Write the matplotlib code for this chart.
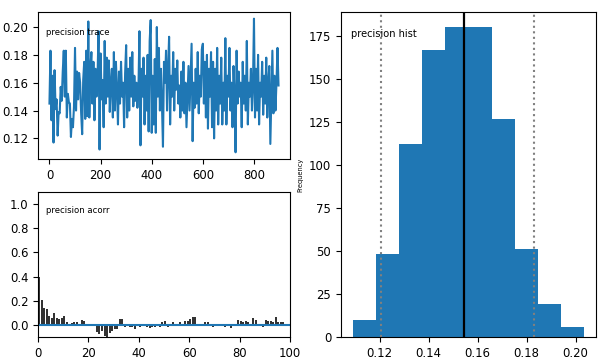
import numpy as np
import matplotlib
matplotlib.use("Agg")
import matplotlib.pyplot as plt

# trace of the precision samples (read every 4th iteration off the picture)
trace_step = 4
trace = [
    0.145, 0.183, 0.133, 0.165, 0.117, 0.169, 0.141, 0.148, 0.122, 0.139, 0.138, 0.157, 0.147,
    0.168, 0.183, 0.150, 0.183, 0.135, 0.152, 0.146, 0.145, 0.121, 0.134, 0.128, 0.143,
    0.185, 0.140, 0.168, 0.148, 0.167, 0.160, 0.138, 0.123, 0.162, 0.175, 0.134, 0.183, 0.136,
    0.204, 0.135, 0.170, 0.182, 0.145, 0.175, 0.133, 0.170, 0.150, 0.164, 0.197, 0.112,
    0.181, 0.148, 0.162, 0.128, 0.190, 0.145, 0.178, 0.150, 0.176, 0.139, 0.160, 0.170, 0.135,
    0.182, 0.140, 0.175, 0.155, 0.130, 0.168, 0.145, 0.175, 0.150, 0.160, 0.128, 0.167,
    0.187, 0.135, 0.170, 0.140, 0.178, 0.150, 0.182, 0.143, 0.165, 0.147, 0.160, 0.142, 0.155,
    0.197, 0.115, 0.170, 0.150, 0.178, 0.130, 0.165, 0.140, 0.180, 0.125, 0.190, 0.205,
    0.124, 0.165, 0.130, 0.177, 0.124, 0.200, 0.150, 0.185, 0.140, 0.170, 0.145, 0.114, 0.175,
    0.160, 0.183, 0.140, 0.170, 0.193, 0.130, 0.165, 0.150, 0.182, 0.140, 0.170, 0.155,
    0.176, 0.145, 0.158, 0.135, 0.168, 0.140, 0.175, 0.138, 0.160, 0.128, 0.150, 0.172, 0.140,
    0.165, 0.188, 0.118, 0.160, 0.142, 0.170, 0.145, 0.182, 0.138, 0.165, 0.150, 0.184,
    0.188, 0.145, 0.175, 0.135, 0.180, 0.127, 0.170, 0.150, 0.182, 0.128, 0.175, 0.120, 0.170,
    0.140, 0.185, 0.130, 0.165, 0.145, 0.178, 0.130, 0.160, 0.140, 0.192, 0.130, 0.165,
    0.150, 0.185, 0.140, 0.160, 0.128, 0.172, 0.150, 0.110, 0.183, 0.145, 0.168, 0.150, 0.160,
    0.128, 0.175, 0.145, 0.165, 0.140, 0.190, 0.130, 0.160, 0.150, 0.170, 0.140, 0.158,
    0.206, 0.135, 0.170, 0.140, 0.180, 0.130, 0.160, 0.150, 0.175, 0.137, 0.165, 0.145, 0.178,
    0.135, 0.160, 0.172, 0.116, 0.150, 0.183, 0.138, 0.165, 0.140, 0.160, 0.185, 0.158,
]

# autocorrelation for lags 0..100
acorr = [
    0.40, 0.21, 0.14, 0.135, 0.07, 0.055, 0.10, 0.06, 0.045, 0.055,
    0.07, 0.02, 0.01, 0.015, 0.02, 0.02, 0.005, 0.04, 0.03, 0.0,
    0.0, -0.005, -0.005, -0.06, -0.075, -0.05, -0.09, -0.10, -0.07, -0.05,
    -0.035, -0.03, 0.05, 0.045, -0.02, 0.005, -0.015, -0.02, -0.03, -0.01,
    -0.015, -0.01, 0.005, -0.02, -0.025, -0.015, -0.02, -0.01, -0.02, 0.02,
    0.03, -0.015, 0.005, 0.02, 0.01, 0.005, 0.025, 0.01, 0.03, 0.03,
    0.05, 0.065, 0.065, 0.01, -0.01, 0.005, 0.025, 0.02, -0.01, -0.02,
    0.01, 0.005, -0.01, 0.005, -0.02, 0.005, -0.025, 0.005, 0.0, 0.04,
    0.035, 0.02, 0.03, 0.025, -0.01, 0.055, 0.04, 0.005, -0.01, -0.02,
    0.04, 0.035, 0.035, 0.02, 0.065, 0.02, 0.025, 0.02, 0.01, 0.005,
    -0.03,
]

# histogram
hist_counts = [10, 48, 112, 167, 180, 180, 127, 51, 19, 6]
hist_lo, hist_hi = 0.1089, 0.2036
post_mean = 0.1543
hpd_lo, hpd_hi = 0.1205, 0.1831

fig = plt.figure(figsize=(6.05, 3.61), dpi=100)
tick_fs = 8.4

# trace
ax1 = fig.add_axes([0.0628, 0.5596, 0.4165, 0.4072])
ax1.plot(np.arange(len(trace)) * trace_step, trace, color="#1f77b4", lw=1.5)
ax1.set_yticks([0.12, 0.14, 0.16, 0.18, 0.20])
ax1.set_xticks([0, 200, 400, 600, 800])
ax1.tick_params(labelsize=tick_fs)
ax1.text(0.03, 0.86, "precision trace", transform=ax1.transAxes, fontsize=6.1,
         va="center")

# autocorrelation
ax2 = fig.add_axes([0.0628, 0.0665, 0.4165, 0.4017])
lags = np.arange(len(acorr))
ax2.bar(lags, acorr, width=0.8, align="edge", color="#333333")
ax2.axhline(0, color="#1f77b4", lw=1.5)
ax2.set_xlim(0, 100)
ax2.set_ylim(-0.1, 1.1)
ax2.set_yticks([0.0, 0.2, 0.4, 0.6, 0.8, 1.0])
ax2.tick_params(labelsize=tick_fs)
ax2.text(0.03, 0.87, "precision acorr", transform=ax2.transAxes, fontsize=6.1,
         va="center")

# histogram
ax3 = fig.add_axes([0.5636, 0.0665, 0.4215, 0.9003])
edges = np.linspace(hist_lo, hist_hi, len(hist_counts) + 1)
ax3.bar(edges[:-1], hist_counts, width=np.diff(edges), align="edge",
        color="#1f77b4")
ax3.axvline(post_mean, color="black", lw=1.6)
ax3.axvline(hpd_lo, color="gray", ls=":", lw=1.5)
ax3.axvline(hpd_hi, color="gray", ls=":", lw=1.5)
ax3.set_xticks([0.12, 0.14, 0.16, 0.18, 0.20])
ax3.set_yticks([0, 25, 50, 75, 100, 125, 150, 175])
ax3.tick_params(labelsize=tick_fs)
ax3.set_ylabel("Frequency", fontsize=4.8)
ax3.text(0.04, 0.932, "precision hist", transform=ax3.transAxes, fontsize=7.1,
         va="center")

fig.savefig("out.png", dpi=100)
